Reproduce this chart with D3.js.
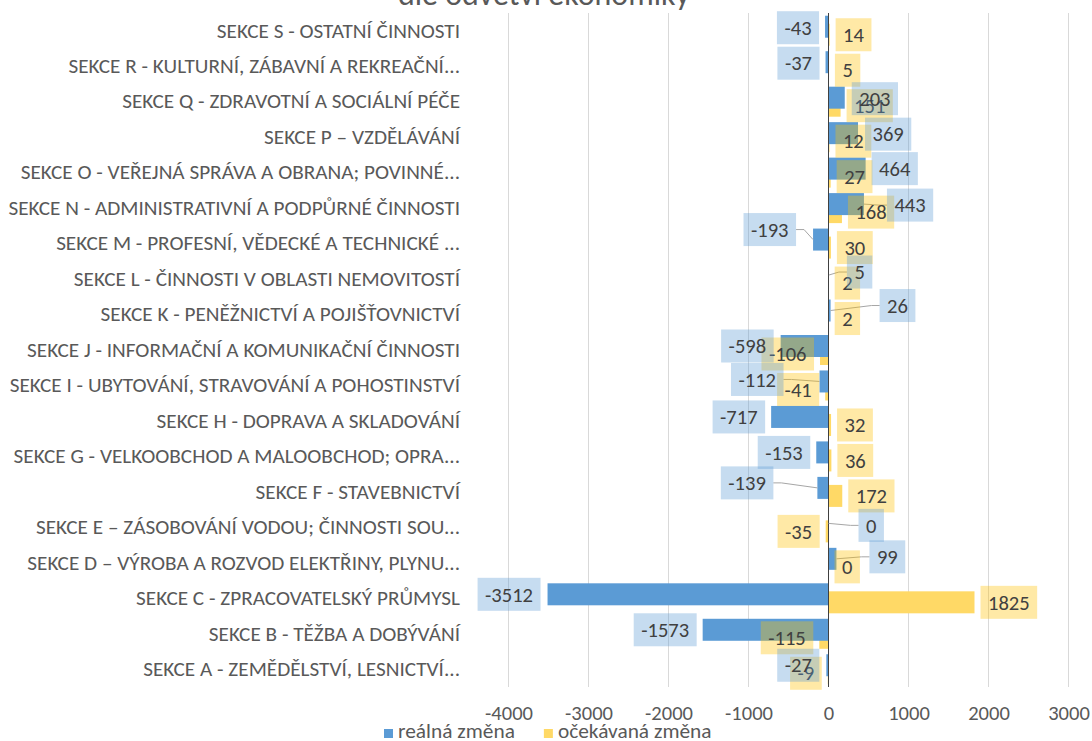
<!DOCTYPE html>
<html>
<head>
<meta charset="utf-8">
<script src="https://cdn.jsdelivr.net/npm/d3@7"></script>
<style>
  body { margin: 0; background: #fff; }
  svg { display: block; }
</style>
</head>
<body>
<svg id="chart" width="1092" height="741"></svg>
<script>
// Sections of the economy, bottom (A) to top (S)
const categories = [
  "SEKCE A - ZEMĚDĚLSTVÍ, LESNICTVÍ...",
  "SEKCE B - TĚŽBA A DOBÝVÁNÍ",
  "SEKCE C - ZPRACOVATELSKÝ PRŮMYSL",
  "SEKCE D – VÝROBA A ROZVOD ELEKTŘINY, PLYNU...",
  "SEKCE E – ZÁSOBOVÁNÍ VODOU; ČINNOSTI SOU...",
  "SEKCE F - STAVEBNICTVÍ",
  "SEKCE G - VELKOOBCHOD A MALOOBCHOD; OPRA...",
  "SEKCE H - DOPRAVA A SKLADOVÁNÍ",
  "SEKCE I - UBYTOVÁNÍ, STRAVOVÁNÍ A POHOSTINSTVÍ",
  "SEKCE J - INFORMAČNÍ A KOMUNIKAČNÍ ČINNOSTI",
  "SEKCE K - PENĚŽNICTVÍ A POJIŠŤOVNICTVÍ",
  "SEKCE L - ČINNOSTI V OBLASTI NEMOVITOSTÍ",
  "SEKCE M - PROFESNÍ, VĚDECKÉ A TECHNICKÉ ...",
  "SEKCE N - ADMINISTRATIVNÍ A PODPŮRNÉ ČINNOSTI",
  "SEKCE O - VEŘEJNÁ SPRÁVA A OBRANA; POVINNÉ...",
  "SEKCE P – VZDĚLÁVÁNÍ",
  "SEKCE Q - ZDRAVOTNÍ A SOCIÁLNÍ PÉČE",
  "SEKCE R - KULTURNÍ, ZÁBAVNÍ A REKREAČNÍ...",
  "SEKCE S - OSTATNÍ ČINNOSTI"
];

const realnaZmena     = [-27, -1573, -3512, 99, 0, -139, -153, -717, -112, -598, 26, 5, -193, 443, 464, 369, 203, -37, -43];
const ocekavanaZmena  = [-9, -115, 1825, 0, -35, 172, 36, 32, -41, -106, 2, 2, 30, 168, 27, 12, 151, 5, 14];

const seriesNames = ["reálná změna", "očekávaná změna"];
const xTicks = [-4000, -3000, -2000, -1000, 0, 1000, 2000, 3000];
const titleTail = "dle odvětví ekonomiky";

// Hand-placed offsets [dx, dy] in px for the "reálná změna" data labels,
// relative to their default outside-end position
const realnaLabelShift = [
  [-1, 0], [0, 0], [-1, 0], [27, -2], [24, 2], [-38, -5], [0, 0], [0, 0], [-30, -2], [-1, 0],
  [43, -5], [12, -3], [-11, -10], [17, 1], [0, 0], [1, 1], [1, 1], [0, 1], [0, 1]
];

// ---- styling ----
const FONT = "Carlito, Lato, 'Open Sans', sans-serif";
const WEIGHT = 300;
const BLUE = "#5B9BD5", YELLOW = "#FFD966";
const TEXT_GREY = "#595959", LABEL_TEXT = "#404040";

const svg = d3.select("#chart");
svg.append("rect").attr("width", 1092).attr("height", 741).attr("fill", "#fff");

// font size that makes a sample string reach a given width
function fitSize(sample, width, base) {
  const t = svg.append("text").attr("font-family", FONT).attr("font-weight", WEIGHT)
    .attr("font-size", base).text(sample);
  const w = t.node().getComputedTextLength();
  t.remove();
  return base * width / w;
}
const LABEL_FS = fitSize("-3512", 48, 18);
const TICK_FS = fitSize("-4000", 48, 18);
const LEGEND_FS = fitSize(seriesNames[0], 117, 18);

const plot = { left: 508.5, right: 1068.5, top: 13, bottom: 687 };

const x = d3.scaleLinear().domain([xTicks[0], xTicks[xTicks.length - 1]]).range([plot.left, plot.right]);
const y = d3.scaleBand().domain(categories.slice().reverse()).range([plot.top, plot.bottom]);
const step = y.step();
const barH = step * 0.62;
const blueOff = step * 0.077;
const yellowOff = blueOff + step * 0.226;

const rows = categories.map((c, i) => ({
  cat: c, real: realnaZmena[i], exp: ocekavanaZmena[i], shift: realnaLabelShift[i]
}));

// gridlines
svg.append("g").selectAll("line")
  .data(xTicks.filter(t => t !== 0))
  .join("line")
  .attr("x1", d => x(d)).attr("x2", d => x(d))
  .attr("y1", plot.top).attr("y2", plot.bottom)
  .attr("stroke", "#D9D9D9").attr("stroke-width", 1);

// bars: expected change underneath, real change on top
const barX = v => x(Math.min(0, v));
const barW = v => Math.abs(x(v) - x(0));

svg.append("g").selectAll("rect")
  .data(rows).join("rect")
  .attr("x", d => barX(d.exp)).attr("width", d => barW(d.exp))
  .attr("y", d => y(d.cat) + yellowOff).attr("height", barH)
  .attr("fill", YELLOW);

svg.append("g").selectAll("rect")
  .data(rows).join("rect")
  .attr("x", d => barX(d.real)).attr("width", d => barW(d.real))
  .attr("y", d => y(d.cat) + blueOff).attr("height", barH)
  .attr("fill", BLUE);

// zero axis line
svg.append("line")
  .attr("x1", x(0)).attr("x2", x(0))
  .attr("y1", plot.top).attr("y2", plot.bottom)
  .attr("stroke", "#404040").attr("stroke-width", 1);

// data labels
const leaderLayer = svg.append("g");
const yellowLabelLayer = svg.append("g");
const blueLabelLayer = svg.append("g");

const PAD = 7.5, BOX_H = 33, GAP = 6;

function addLabel(layer, value, barCy, shift, fill) {
  const g = layer.append("g");
  const rect = g.append("rect");
  const t = g.append("text")
    .attr("font-family", FONT).attr("font-weight", WEIGHT).attr("font-size", LABEL_FS)
    .attr("fill", LABEL_TEXT).attr("text-anchor", "middle")
    .attr("dy", "0.35em")
    .text(String(value));
  const w = t.node().getComputedTextLength() + 2 * PAD;
  const xe = x(value);
  let cx = value >= 0 ? xe + GAP + w / 2 : xe - GAP - w / 2;
  cx += shift[0];
  const cy = barCy + shift[1];
  rect.attr("x", cx - w / 2).attr("y", cy - BOX_H / 2)
    .attr("width", w).attr("height", BOX_H)
    .attr("fill", fill).attr("fill-opacity", 0.35);
  t.attr("x", cx).attr("y", cy);

  const edge = value >= 0 ? cx - w / 2 : cx + w / 2;
  const gap = value >= 0 ? edge - xe : xe - edge;
  if (gap > 12) {
    const stub = value >= 0 ? edge - 8 : edge + 8;
    leaderLayer.append("path")
      .attr("d", `M${edge},${cy}L${stub},${cy}L${xe},${barCy}`)
      .attr("fill", "none").attr("stroke", "#A6A6A6").attr("stroke-width", 1);
  }
}

rows.forEach(d => {
  addLabel(yellowLabelLayer, d.exp, y(d.cat) + yellowOff + barH / 2, [0, 0], "#FFC000");
});
rows.forEach(d => {
  addLabel(blueLabelLayer, d.real, y(d.cat) + blueOff + barH / 2, d.shift, BLUE);
});

// category axis
const catAxis = svg.append("g")
  .attr("transform", "translate(466,0)")
  .call(d3.axisLeft(y).tickSize(0).tickPadding(6));
catAxis.select(".domain").remove();
catAxis.selectAll("text")
  .attr("font-family", FONT).attr("font-weight", WEIGHT).attr("font-size", 17).attr("fill", TEXT_GREY);
{
  let maxW = 0;
  catAxis.selectAll("text").each(function () { maxW = Math.max(maxW, this.getComputedTextLength()); });
  catAxis.selectAll("text").attr("font-size", 17 * 452 / maxW);
}

// value axis tick labels
const valAxis = svg.append("g")
  .attr("transform", "translate(0,699)")
  .call(d3.axisBottom(x).tickValues(xTicks).tickFormat(d => String(d)).tickSize(0).tickPadding(6));
valAxis.select(".domain").remove();
valAxis.selectAll("text")
  .attr("font-family", FONT).attr("font-weight", WEIGHT).attr("font-size", TICK_FS).attr("fill", TEXT_GREY);

// legend
const legend = svg.append("g");
let lx = 384;
[BLUE, YELLOW].forEach((col, i) => {
  legend.append("rect").attr("x", lx).attr("y", 729).attr("width", 9).attr("height", 9).attr("fill", col);
  const t = legend.append("text")
    .attr("x", lx + 14).attr("y", 738)
    .attr("font-family", FONT).attr("font-weight", WEIGHT).attr("font-size", LEGEND_FS).attr("fill", TEXT_GREY)
    .text(seriesNames[i]);
  lx = lx + 14 + t.node().getComputedTextLength() + 29;
});

// title (its upper part runs off the top edge)
const title = svg.append("text")
  .attr("x", 544).attr("y", 5)
  .attr("text-anchor", "middle")
  .attr("font-family", FONT).attr("font-weight", WEIGHT).attr("font-size", 24).attr("fill", TEXT_GREY)
  .text(titleTail);
title.attr("font-size", 24 * 292 / title.node().getComputedTextLength());
</script>
</body>
</html>
